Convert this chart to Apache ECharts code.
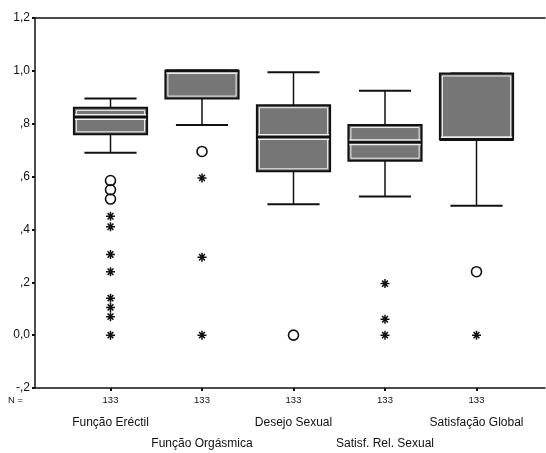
<!DOCTYPE html>
<html><head><meta charset="utf-8">
<script src="https://cdn.jsdelivr.net/npm/echarts@6/dist/echarts.min.js"></script>
<style>html,body{margin:0;padding:0;background:#fff}#c{width:546px;height:453px}</style>
</head><body><div id="c"></div>
<script>
const categories = ['Função Eréctil', 'Função Orgásmica', 'Desejo Sexual', 'Satisf. Rel. Sexual', 'Satisfação Global'];
const counts = [133, 133, 133, 133, 133];
const lowWhisker  = [0.69, 0.795, 0.495, 0.525, 0.49];
const q1          = [0.76, 0.895, 0.62, 0.66, 0.74];
const median      = [0.825, 1.0, 0.75, 0.73, 0.74];
const q3          = [0.86, 1.0, 0.87, 0.795, 0.99];
const highWhisker = [0.895, 1.0, 0.995, 0.925, 0.99];
// outliers: [categoryIndex, value]
const circleOutliers = [[0, 0.585], [0, 0.55], [0, 0.515], [1, 0.695], [2, 0.0], [4, 0.24]];
const starOutliers = [[0, 0.45], [0, 0.41], [0, 0.305], [0, 0.24], [0, 0.14], [0, 0.105], [0, 0.07], [0, 0.0],
                      [1, 0.595], [1, 0.295], [1, 0.0],
                      [3, 0.195], [3, 0.06], [3, 0.0],
                      [4, 0.0]];
const yTickValues = [-0.2, 0, 0.2, 0.4, 0.6, 0.8, 1.0, 1.2];
const yTickLabels = ['-,2', '0,0', ',2', ',4', ',6', ',8', '1,0', '1,2'];

const boxData = categories.map((c, i) => [i, lowWhisker[i], q1[i], median[i], q3[i], highWhisker[i]]);
const INK = '#111';
const FONT = "'Liberation Sans', Arial, sans-serif";

function renderBox(params, api) {
  const i = api.value(0);
  const lo = api.coord([i, api.value(1)]);
  const b1 = api.coord([i, api.value(2)]);
  const md = api.coord([i, api.value(3)]);
  const b3 = api.coord([i, api.value(4)]);
  const hi = api.coord([i, api.value(5)]);
  const band = api.size([1, 0])[0];
  const bw = band * 0.8, cw = band * 0.57;
  const x = lo[0];
  const line = (x1, y1, x2, y2, w, c) => ({type: 'line', shape: {x1, y1, x2, y2}, style: {stroke: c, lineWidth: w}});
  const top = b3[1], bot = b1[1];
  const wTop = Math.max(md[1] - 3, top + 1), wBot = Math.min(md[1] + 3, bot - 1);
  return {type: 'group', children: [
    line(x, hi[1], x, top, 1.5, INK),
    line(x, bot, x, lo[1], 1.5, INK),
    line(x - cw / 2, hi[1], x + cw / 2, hi[1], 2, INK),
    line(x - cw / 2, lo[1], x + cw / 2, lo[1], 2, INK),
    {type: 'rect', shape: {x: x - bw / 2, y: top, width: bw, height: bot - top}, style: {fill: '#767676', stroke: INK, lineWidth: 2}},
    {type: 'rect', shape: {x: x - bw / 2 + 2.5, y: top + 2.5, width: bw - 5, height: bot - top - 5}, style: {fill: 'none', stroke: '#f0f0f0', lineWidth: 1}},
    {type: 'rect', shape: {x: x - bw / 2 + 1, y: wTop, width: bw - 2, height: wBot - wTop}, style: {fill: '#f0f0f0'}},
    line(x - bw / 2, md[1], x + bw / 2, md[1], 3, INK)
  ]};
}

const chart = echarts.init(document.getElementById('c'));
const hiddenValueX = {type: 'value', min: 0, max: 1, axisTick: {show: false}, axisLabel: {show: false}, splitLine: {show: false},
  axisLine: {show: true, onZero: false, lineStyle: {color: INK, width: 1.5}}};
const catBase = {gridIndex: 1, type: 'category', data: categories, position: 'bottom', boundaryGap: true,
  axisLine: {show: false, onZero: false}, splitLine: {show: false}};
chart.setOption({
  animation: false,
  backgroundColor: '#fff',
  title: {text: 'N =', left: 8, top: 395, padding: 0, textStyle: {fontSize: 9.5, fontWeight: 'normal', color: INK, fontFamily: FONT}},
  grid: [
    {left: 35, right: 1, top: 18, bottom: 65, outerBoundsMode: 'none', containLabel: false},
    {left: 64.75, right: 23.75, top: 18, bottom: 65, outerBoundsMode: 'none', containLabel: false}
  ],
  xAxis: [
    Object.assign({gridIndex: 0, position: 'bottom'}, hiddenValueX),
    Object.assign({gridIndex: 0, position: 'top'}, hiddenValueX),
    Object.assign({}, catBase, {
      axisTick: {show: true, alignWithLabel: true, length: 3, lineStyle: {color: INK, width: 2}},
      axisLabel: {interval: 0, margin: 7, fontSize: 9.5, color: INK, fontFamily: FONT, formatter: (v, i) => String(counts[i])}}),
    Object.assign({}, catBase, {axisTick: {show: false},
      axisLabel: {interval: 0, margin: 29, fontSize: 12, color: INK, fontFamily: FONT, formatter: (v, i) => i % 2 === 0 ? v : ''}}),
    Object.assign({}, catBase, {axisTick: {show: false},
      axisLabel: {interval: 0, margin: 50, fontSize: 12, color: INK, fontFamily: FONT, formatter: (v, i) => i % 2 === 1 ? v : ''}})
  ],
  yAxis: [
    {gridIndex: 0, type: 'value', min: -0.2, max: 1.2, interval: 0.2, splitLine: {show: false},
      axisLine: {show: true, lineStyle: {color: INK, width: 1.5}},
      axisTick: {show: true, length: 3, lineStyle: {color: INK, width: 2}},
      axisLabel: {margin: 5, fontSize: 12, color: INK, fontFamily: FONT,
        formatter: v => { const k = yTickValues.findIndex(t => Math.abs(t - v) < 1e-6); return k >= 0 ? yTickLabels[k] : ''; }}},
    {gridIndex: 1, type: 'value', min: -0.2, max: 1.2, interval: 0.2, show: false}
  ],
  series: [
    {type: 'custom', xAxisIndex: 2, yAxisIndex: 1, data: boxData, renderItem: renderBox, encode: {x: 0, y: [1, 2, 3, 4, 5]}},
    {type: 'scatter', xAxisIndex: 2, yAxisIndex: 1, data: circleOutliers, symbol: 'circle', symbolSize: 10,
      itemStyle: {color: 'rgba(0,0,0,0)', borderColor: INK, borderWidth: 1.6, opacity: 1}},
    {type: 'scatter', xAxisIndex: 2, yAxisIndex: 1, data: starOutliers,
      symbol: 'path://M0,5L10,5M5,0.5L5,9.5M1.8,1.8L8.2,8.2M1.8,8.2L8.2,1.8', symbolSize: [9, 9],
      itemStyle: {color: 'rgba(0,0,0,0)', borderColor: INK, borderWidth: 1.5, opacity: 1}}
  ]
});
</script></body></html>
